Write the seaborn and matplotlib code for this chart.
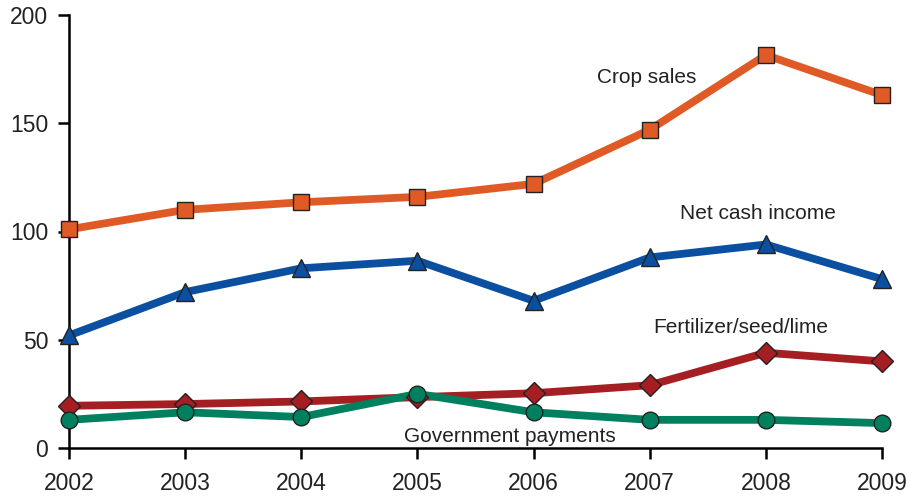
import matplotlib
matplotlib.use("Agg")
import matplotlib.pyplot as plt
import seaborn as sns
import pandas as pd

years = [2002, 2003, 2004, 2005, 2006, 2007, 2008, 2009]
crop_sales = [101, 110, 113.5, 116, 122, 147, 181.5, 163]
net_cash_income = [52, 72, 83, 86.5, 68, 88, 94, 78]
fertilizer_seed_lime = [19.5, 20.3, 21.5, 23.5, 25.3, 29, 44, 40]
government_payments = [13, 16.5, 14.3, 25, 16.5, 13, 13, 11.5]

series_names = ["Crop sales", "Net cash income", "Fertilizer/seed/lime", "Government payments"]
series_values = [crop_sales, net_cash_income, fertilizer_seed_lime, government_payments]
colors = ["#E05A26", "#0A4FA0", "#A51E22", "#00805E"]
markers = ["s", "^", "D", "o"]
marker_sizes = [12, 13, 11.5, 12]

df = pd.concat(
    [pd.DataFrame({"year": years, "value": v, "series": n}) for n, v in zip(series_names, series_values)],
    ignore_index=True,
)

sns.set_theme(style="ticks")
plt.rcParams["font.family"] = ["Liberation Sans", "DejaVu Sans"]

fig = plt.figure(figsize=(9.11, 4.97), dpi=100)
ax = fig.add_axes([69 / 911, 49 / 497, 813 / 911, 433 / 497])

sns.lineplot(
    data=df, x="year", y="value", hue="series", palette=dict(zip(series_names, colors)),
    linewidth=5.6, legend=False, ax=ax, zorder=2,
)
for name, vals, c, m, ms in zip(series_names, series_values, colors, markers, marker_sizes):
    ax.plot(years, vals, linestyle="none", marker=m, markersize=ms,
            markerfacecolor=c, markeredgecolor="#222222", markeredgewidth=1.0,
            clip_on=False, zorder=3)

for line in ax.lines:
    line.set_clip_on(False)

ax.set_xlim(2002, 2009)
ax.set_ylim(0, 200)
ax.set_xticks(years)
ax.set_yticks([0, 50, 100, 150, 200])
ax.set_xlabel("")
ax.set_ylabel("")
ax.tick_params(axis="both", direction="out", length=8, width=1.8, color="black",
               labelsize=16.5, labelcolor="#222222")
ax.tick_params(axis="x", pad=9)
ax.tick_params(axis="y", pad=7)
for side in ["top", "right"]:
    ax.spines[side].set_visible(False)
for side in ["left", "bottom"]:
    ax.spines[side].set_linewidth(1.8)
    ax.spines[side].set_color("black")
ax.spines["bottom"].set_bounds(2002, 2009)

label_kw = dict(fontsize=15, color="#222222", ha="center", va="center")
ax.text(2006.97, 171, "Crop sales", **label_kw)
ax.text(2007.93, 108.5, "Net cash income", **label_kw)
ax.text(2007.78, 55.5, "Fertilizer/seed/lime", **label_kw)
ax.text(2005.8, 5.5, "Government payments", **label_kw)

fig.savefig("out.png", dpi=100)
